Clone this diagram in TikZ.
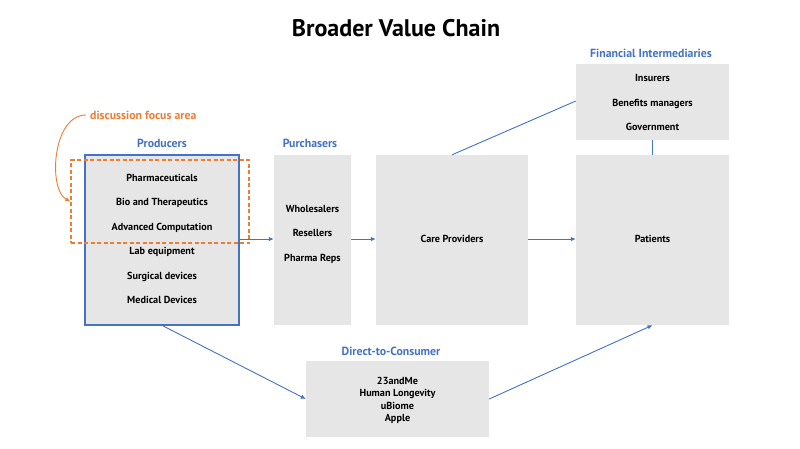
\documentclass[tikz,border=0pt]{standalone}
\usepackage{fontspec}
\setmainfont{PT Sans}
\usetikzlibrary{arrows.meta}
\definecolor{cblue}{HTML}{4472C4}
\definecolor{corange}{HTML}{ED7D31}
\definecolor{cgray}{HTML}{E7E6E6}
\begin{document}
\begin{tikzpicture}[x=1pt,y=-1pt,
  box/.style={fill=cgray,draw=none,inner sep=0pt},
  txt/.style={font=\bfseries\fontsize{10.2}{24.5}\selectfont,align=center,inner sep=0pt},
  hdr/.style={font=\bfseries\fontsize{11.8}{13}\selectfont,text=cblue,inner sep=0pt},
  conn/.style={draw=cblue,line width=0.9pt},
  arr/.style={conn,-{Latex[length=5pt,width=4.5pt]}}
]
\useasboundingbox (0,0) rectangle (800,448);
\fill[white] (0,0) rectangle (800,448);
\node[font=\bfseries\fontsize{24}{27}\selectfont] (title) at (396,28) {Broader Value Chain};
% boxes
\node[box,draw=cblue,line width=1.8pt,minimum width=154pt,minimum height=170pt] (prod) at (162,240) {};
\node[box,minimum width=77pt,minimum height=170pt] (pur) at (312.5,240) {};
\node[box,minimum width=152pt,minimum height=170pt] (care) at (452,240) {};
\node[box,minimum width=153pt,minimum height=170pt] (pat) at (652.5,240) {};
\node[box,minimum width=153pt,minimum height=76pt] (fin) at (652.5,102) {};
\node[box,minimum width=183pt,minimum height=76pt] (dtc) at (397.5,399) {};
% headers
\node[hdr] (hprod) at (162,143) {Producers};
\node[hdr] (hpur) at (310,143) {Purchasers};
\node[hdr] (hfin) at (651,53) {Financial Intermediaries};
\node[hdr] (hdtc) at (391,351) {Direct-to-Consumer};
% texts
\node[txt] (tprod) at (162,239) {Pharmaceuticals\\Bio and Therapeutics\\Advanced Computation\\Lab equipment\\Surgical devices\\Medical Devices};
\node[txt] (tpur) at (312.5,234) {Wholesalers\\Resellers\\Pharma Reps};
\node[txt] (tcare) at (452,239) {Care Providers};
\node[txt] (tpat) at (652.5,239) {Patients};
\node[txt] (tfin) at (652.5,102.5) {Insurers\\Benefits managers\\Government};
\node[txt,font=\bfseries\fontsize{10.2}{12.3}\selectfont] (tdtc) at (397.5,400.5) {23andMe\\Human Longevity\\uBiome\\Apple};
% focus area
\node[draw=corange,line width=1.15pt,dash pattern=on 4pt off 2.5pt,minimum width=178pt,minimum height=83pt,inner sep=0pt] (focus) at (160,201.5) {};
\node[font=\bfseries\fontsize{11.8}{13}\selectfont,text=corange,anchor=west,inner sep=0pt] (dfa) at (90,115) {discussion focus area};
\draw[corange,line width=0.9pt,-{Latex[length=5pt,width=4.5pt]}] ([xshift=-4pt]dfa.west) .. controls (52,115) and (48,190) .. (focus.west);
% connectors
\draw[arr] (prod.east |- 0,239) -- (pur.west |- 0,239);
\draw[arr] (pur.east |- 0,239) -- (care.west |- 0,239);
\draw[arr] (care.east |- 0,239) -- (pat.west |- 0,239);
\draw[conn] (care.north) -- (fin.west |- 0,101);
\draw[conn] (fin.south) -- (pat.north);
\draw[arr] (prod.south) ++(1,0) coordinate (ps) (ps) -- (dtc.west);
\draw[arr] (dtc.east) -- (pat.south);
\end{tikzpicture}
\end{document}
